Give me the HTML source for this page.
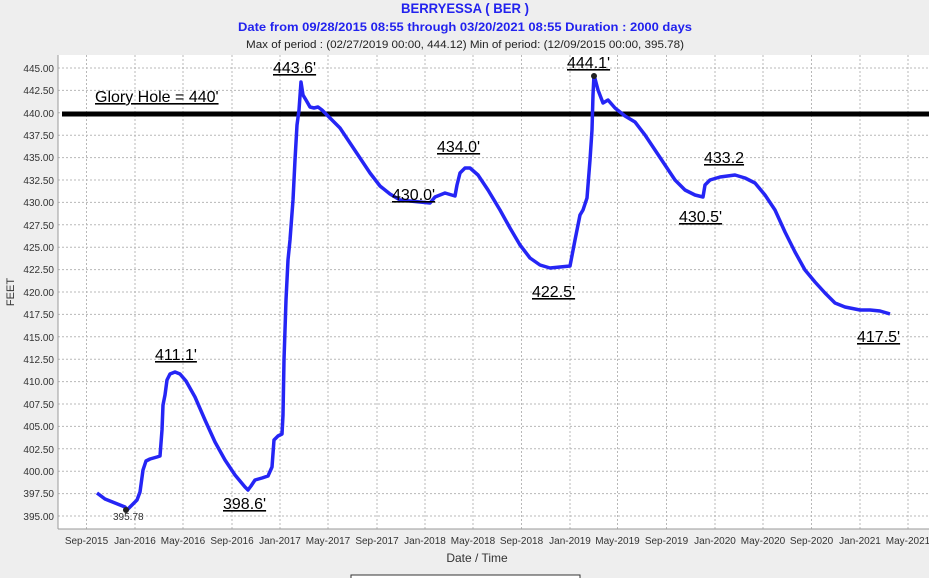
<!DOCTYPE html>
<html><head><meta charset="utf-8"><style>
html,body{margin:0;padding:0;background:#eeeeee;}
svg{display:block;}
text{font-family:"Liberation Sans",sans-serif;}
</style></head><body>
<svg width="929" height="578" viewBox="0 0 929 578" xmlns="http://www.w3.org/2000/svg">
<rect width="929" height="578" fill="#eeeeee"/>
<text x="465" y="13" text-anchor="middle" font-size="14" font-weight="bold" fill="#2222ee" textLength="128" lengthAdjust="spacingAndGlyphs">BERRYESSA ( BER )</text>
<text x="465" y="31" text-anchor="middle" font-size="12" font-weight="bold" fill="#2222ee" textLength="454" lengthAdjust="spacingAndGlyphs">Date from 09/28/2015 08:55 through 03/20/2021 08:55 Duration : 2000 days</text>
<text x="465" y="48" text-anchor="middle" font-size="11" fill="#222" textLength="438" lengthAdjust="spacingAndGlyphs">Max of period : (02/27/2019 00:00, 444.12)  Min of period: (12/09/2015 00:00,  395.78)</text>
<rect x="58" y="55" width="871" height="474" fill="#fff"/>
<g stroke="#b8b8b8" stroke-width="1" stroke-dasharray="2,2">
<line x1="58" x2="929" y1="68" y2="68"/><line x1="58" x2="929" y1="90.4" y2="90.4"/><line x1="58" x2="929" y1="112.8" y2="112.8"/><line x1="58" x2="929" y1="135.2" y2="135.2"/><line x1="58" x2="929" y1="157.6" y2="157.6"/><line x1="58" x2="929" y1="180" y2="180"/><line x1="58" x2="929" y1="202.4" y2="202.4"/><line x1="58" x2="929" y1="224.8" y2="224.8"/><line x1="58" x2="929" y1="247.2" y2="247.2"/><line x1="58" x2="929" y1="269.6" y2="269.6"/><line x1="58" x2="929" y1="292" y2="292"/><line x1="58" x2="929" y1="314.4" y2="314.4"/><line x1="58" x2="929" y1="336.8" y2="336.8"/><line x1="58" x2="929" y1="359.2" y2="359.2"/><line x1="58" x2="929" y1="381.6" y2="381.6"/><line x1="58" x2="929" y1="404" y2="404"/><line x1="58" x2="929" y1="426.4" y2="426.4"/><line x1="58" x2="929" y1="448.8" y2="448.8"/><line x1="58" x2="929" y1="471.2" y2="471.2"/><line x1="58" x2="929" y1="493.6" y2="493.6"/><line x1="58" x2="929" y1="516" y2="516"/>
<line y1="55" y2="529" x1="86.5" x2="86.5"/><line y1="55" y2="529" x1="135" x2="135"/><line y1="55" y2="529" x1="183" x2="183"/><line y1="55" y2="529" x1="232" x2="232"/><line y1="55" y2="529" x1="280" x2="280"/><line y1="55" y2="529" x1="328" x2="328"/><line y1="55" y2="529" x1="377" x2="377"/><line y1="55" y2="529" x1="425" x2="425"/><line y1="55" y2="529" x1="473" x2="473"/><line y1="55" y2="529" x1="521.5" x2="521.5"/><line y1="55" y2="529" x1="570" x2="570"/><line y1="55" y2="529" x1="617.5" x2="617.5"/><line y1="55" y2="529" x1="666.5" x2="666.5"/><line y1="55" y2="529" x1="715" x2="715"/><line y1="55" y2="529" x1="763" x2="763"/><line y1="55" y2="529" x1="811.5" x2="811.5"/><line y1="55" y2="529" x1="860" x2="860"/><line y1="55" y2="529" x1="908" x2="908"/>
</g>
<line x1="58" y1="55" x2="58" y2="529" stroke="#999"/>
<line x1="58" y1="529" x2="929" y2="529" stroke="#999"/>
<g font-size="10" fill="#333" text-anchor="end">
<text x="54" y="72">445.00</text><text x="54" y="94">442.50</text><text x="54" y="117">440.00</text><text x="54" y="139">437.50</text><text x="54" y="161">435.00</text><text x="54" y="184">432.50</text><text x="54" y="206">430.00</text><text x="54" y="229">427.50</text><text x="54" y="251">425.00</text><text x="54" y="273">422.50</text><text x="54" y="296">420.00</text><text x="54" y="318">417.50</text><text x="54" y="341">415.00</text><text x="54" y="363">412.50</text><text x="54" y="385">410.00</text><text x="54" y="408">407.50</text><text x="54" y="430">405.00</text><text x="54" y="453">402.50</text><text x="54" y="475">400.00</text><text x="54" y="497">397.50</text><text x="54" y="520">395.00</text>
</g>
<g font-size="10" fill="#333" text-anchor="middle">
<text x="86.5" y="544">Sep-2015</text><text x="135" y="544">Jan-2016</text><text x="183" y="544">May-2016</text><text x="232" y="544">Sep-2016</text><text x="280" y="544">Jan-2017</text><text x="328" y="544">May-2017</text><text x="377" y="544">Sep-2017</text><text x="425" y="544">Jan-2018</text><text x="473" y="544">May-2018</text><text x="521.5" y="544">Sep-2018</text><text x="570" y="544">Jan-2019</text><text x="617.5" y="544">May-2019</text><text x="666.5" y="544">Sep-2019</text><text x="715" y="544">Jan-2020</text><text x="763" y="544">May-2020</text><text x="811.5" y="544">Sep-2020</text><text x="860" y="544">Jan-2021</text><text x="908" y="544">May-2021</text>
</g>
<text x="477" y="562" font-size="12" fill="#333" text-anchor="middle">Date / Time</text>
<text transform="translate(14,292) rotate(-90)" font-size="11" fill="#333" text-anchor="middle">FEET</text>
<rect x="351" y="575" width="229" height="6" fill="#fff" stroke="#333"/>
<line x1="62" y1="114" x2="929" y2="114" stroke="#000" stroke-width="5"/>
<polyline fill="none" stroke="#2525f5" stroke-width="3.5" stroke-linejoin="round" points="97,493 105,499 115,503 125,507 127,510 132,505 137,500 140,492 143,470 146,461 150,459 157,457 160,456 162,430 163,405 165,395 167,380 170,374 175,372 180,374 186,381 195,397 205,420 215,442 225,460 235,475 245,487 248,490 251,486 255,480 262,478 268,476 272,467 274,440 278,436 282,434 283,415 284,360 286,300 288,260 290,240 293,200 295,160 297,125 299,110 301,82 303,95 306,100 310,107 314,108 318,107 322,110 330,118 340,128 350,143 360,158 370,173 380,186 390,194 400,200 410,201 420,202 430,203 435,197 445,193 455,196 457,185 460,173 465,168 470,168 478,175 488,190 500,210 510,228 520,245 530,258 540,265 550,268 560,267 570,266 575,240 580,215 583,210 587,198 590,160 592,130 593,95 594,75 598,90 603,103 608,100 615,108 625,116 635,122 645,135 655,150 665,165 675,180 685,190 695,195 703,197 705,185 710,180 720,177 735,175 745,178 755,183 765,195 775,210 785,232 795,252 805,270 815,282 825,293 835,303 845,307 860,310 870,310 880,311 890,314"/>
<circle cx="126" cy="510" r="3" fill="#222"/><circle cx="594" cy="76" r="3" fill="#222"/>
<text x="113" y="520" font-size="10" fill="#333">395.78</text>
<g font-size="16" fill="#000" text-decoration="underline">
<text x="95" y="102">Glory Hole = 440'</text>
<text x="273" y="73">443.6'</text>
<text x="567" y="68">444.1'</text>
<text x="437" y="152">434.0'</text>
<text x="392" y="200">430.0'</text>
<text x="704" y="163">433.2</text>
<text x="679" y="222">430.5'</text>
<text x="532" y="297">422.5'</text>
<text x="857" y="342">417.5'</text>
<text x="155" y="360">411.1'</text>
<text x="223" y="509">398.6'</text>
</g>
</svg>
</body></html>
